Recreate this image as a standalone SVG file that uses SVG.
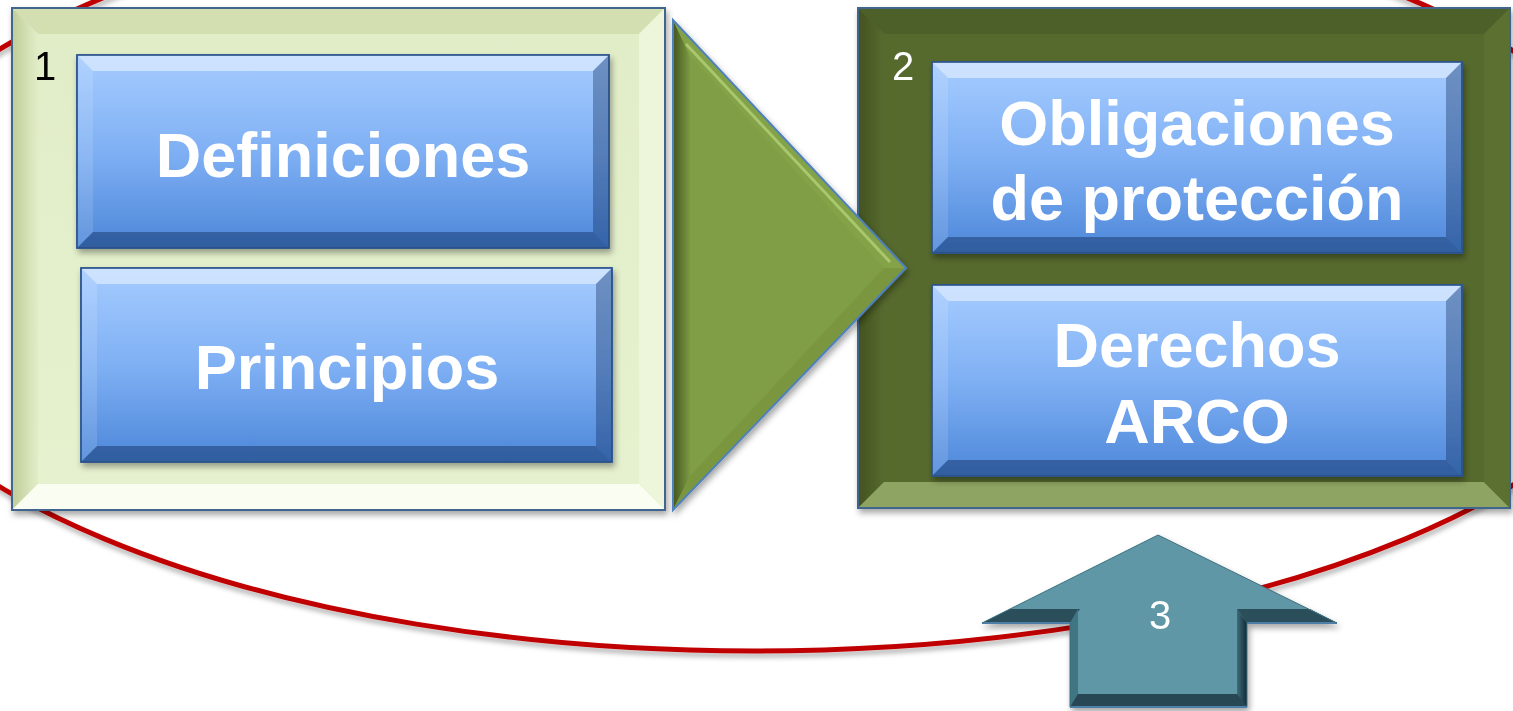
<svg xmlns="http://www.w3.org/2000/svg" width="1513" height="711" viewBox="0 0 1513 711">
<defs>
  <linearGradient id="blueFill" x1="0" y1="0" x2="0" y2="1">
    <stop offset="0" stop-color="#A6CCFF"/>
    <stop offset="0.5" stop-color="#7FB0F4"/>
    <stop offset="1" stop-color="#4D87D9"/>
  </linearGradient>
  <linearGradient id="p1Fill" x1="0" y1="0" x2="0" y2="1">
    <stop offset="0" stop-color="#E1EDC7"/>
    <stop offset="1" stop-color="#E6F1CF"/>
  </linearGradient>
  <linearGradient id="p1Left" x1="0" y1="0" x2="1" y2="0">
    <stop offset="0" stop-color="#BFCD98"/>
    <stop offset="1" stop-color="#E2EDC8"/>
  </linearGradient>
  <linearGradient id="p2Left" x1="0" y1="0" x2="1" y2="0">
    <stop offset="0" stop-color="#43531F"/>
    <stop offset="1" stop-color="#566A2F"/>
  </linearGradient>
  <linearGradient id="triLeft" x1="0" y1="0" x2="1" y2="0">
    <stop offset="0" stop-color="#44561F"/>
    <stop offset="1" stop-color="#7C9A43"/>
  </linearGradient>
  <linearGradient id="shaftRight" x1="0" y1="0" x2="1" y2="0">
    <stop offset="0" stop-color="#3C6C79"/>
    <stop offset="1" stop-color="#142A33"/>
  </linearGradient>
  <filter id="shadow" x="-10%" y="-10%" width="125%" height="130%">
    <feDropShadow dx="2" dy="4" stdDeviation="3" flood-color="#000" flood-opacity="0.35"/>
  </filter>
  <filter id="lineShadow" x="-10%" y="-10%" width="120%" height="130%">
    <feDropShadow dx="1" dy="4" stdDeviation="2.5" flood-color="#000" flood-opacity="0.3"/>
  </filter>
  <style>
    .lbl { font-family: "Liberation Sans", Arial, sans-serif; font-weight: bold; font-size: 63px; fill: #FFFFFF; text-anchor: middle; }
    .num { font-family: "Liberation Sans", Arial, sans-serif; font-size: 40px; }
    .box { fill: url(#blueFill); stroke: #2E5590; stroke-width: 1.5; }
    .b-top { fill: #FFFFFF; opacity: 0.45; }
    .b-left { fill: #FFFFFF; opacity: 0.12; }
    .b-right { fill: #0A2350; opacity: 0.35; }
    .b-bot { fill: #0A2350; opacity: 0.42; }
    .edge { fill: none; stroke: #2E5590; stroke-width: 1.5; }
  </style>
</defs>
<rect width="1513" height="711" fill="#FFFFFF"/>

<g id="connectors">
  <ellipse cx="755" cy="268" rx="920" ry="383" fill="none" stroke="#C00000" stroke-width="5" filter="url(#lineShadow)"/>
</g>

<g id="panel1" filter="url(#shadow)">
  <rect x="12" y="8" width="653" height="502" fill="url(#p1Fill)"/>
  <polygon points="12,8 665,8 639,34 38,34" fill="#D3DFB1"/>
  <polygon points="12,8 38,34 38,484 12,510" fill="url(#p1Left)"/>
  <polygon points="12,510 665,510 639,484 38,484" fill="#FAFDF2"/>
  <polygon points="665,8 665,510 639,484 639,34" fill="#EDF5DA"/>
  <rect x="12" y="8" width="653" height="502" fill="none" stroke="#41668F" stroke-width="2"/>
  <text class="num" x="34" y="80" fill="#000000">1</text>
</g>

<g id="definiciones" filter="url(#shadow)">
  <rect class="box" x="77" y="55" width="532" height="193"/>
  <polygon class="b-top" points="77,55 609,55 593,71 93,71"/>
  <polygon class="b-left" points="77,55 93,71 93,232 77,248"/>
  <polygon class="b-right" points="609,55 609,248 593,232 593,71"/>
  <polygon class="b-bot" points="77,248 609,248 593,232 93,232"/>
  <rect class="edge" x="77" y="55" width="532" height="193"/>
  <text class="lbl" x="343" y="177">Definiciones</text>
</g>

<g id="principios" filter="url(#shadow)">
  <rect class="box" x="81" y="268" width="531" height="194"/>
  <polygon class="b-top" points="81,268 612,268 596,284 97,284"/>
  <polygon class="b-left" points="81,268 97,284 97,446 81,462"/>
  <polygon class="b-right" points="612,268 612,462 596,446 596,284"/>
  <polygon class="b-bot" points="81,462 612,462 596,446 97,446"/>
  <rect class="edge" x="81" y="268" width="531" height="194"/>
  <text class="lbl" x="347" y="389">Principios</text>
</g>

<g id="panel2" filter="url(#shadow)">
  <rect x="858" y="8" width="652" height="500" fill="#576B2F"/>
  <polygon points="858,8 1510,8 1484,34 884,34" fill="#4E6129"/>
  <polygon points="858,8 884,34 884,482 858,508" fill="url(#p2Left)"/>
  <polygon points="858,508 1510,508 1484,482 884,482" fill="#8DA462"/>
  <polygon points="1510,8 1510,508 1484,482 1484,34" fill="#5C7033"/>
  <rect x="858" y="8" width="652" height="500" fill="none" stroke="#41668F" stroke-width="2"/>
  <text class="num" x="892" y="80" fill="#FFFFFF">2</text>
</g>

<g id="obligaciones" filter="url(#shadow)">
  <rect class="box" x="932" y="62" width="530" height="191"/>
  <polygon class="b-top" points="932,62 1462,62 1446,78 948,78"/>
  <polygon class="b-left" points="932,62 948,78 948,237 932,253"/>
  <polygon class="b-right" points="1462,62 1462,253 1446,237 1446,78"/>
  <polygon class="b-bot" points="932,253 1462,253 1446,237 948,237"/>
  <rect class="edge" x="932" y="62" width="530" height="191"/>
  <text class="lbl" x="1197" y="145">Obligaciones</text>
  <text class="lbl" x="1197" y="220">de protección</text>
</g>

<g id="derechos" filter="url(#shadow)">
  <rect class="box" x="932" y="285" width="530" height="191"/>
  <polygon class="b-top" points="932,285 1462,285 1446,301 948,301"/>
  <polygon class="b-left" points="932,285 948,301 948,460 932,476"/>
  <polygon class="b-right" points="1462,285 1462,476 1446,460 1446,301"/>
  <polygon class="b-bot" points="932,476 1462,476 1446,460 948,460"/>
  <rect class="edge" x="932" y="285" width="530" height="191"/>
  <text class="lbl" x="1197" y="367">Derechos</text>
  <text class="lbl" x="1197" y="443">ARCO</text>
</g>

<g id="arrow1" filter="url(#shadow)">
  <polygon points="673,20 906,268 673,510" fill="#7F9E45"/>
  <polygon points="673,20 690,56 690,476 673,510" fill="url(#triLeft)"/>
  <polygon points="673,20 906,268 884,268 690,56" fill="#84A348"/>
  <line x1="686" y1="44" x2="890" y2="262" stroke="#A9C76E" stroke-width="3"/>
  <polygon points="673,510 906,268 884,268 690,476" fill="#7A9741"/>
  <polygon points="673,20 906,268 673,510" fill="none" stroke="#4F81BD" stroke-width="2"/>
</g>

<g id="arrow3" filter="url(#shadow)">
  <polygon points="1158,535 1337,623 1247,623 1247,707 1070,707 1070,623 982,623" fill="#5E97A6"/>
  <polygon points="982,623 1070,623 1080,609 1010,609" fill="#2B4F5A"/>
  <polygon points="1247,623 1337,623 1310,609 1237,609" fill="#2B4F5A"/>
  <polygon points="1070,623 1070,707 1078,696 1078,609" fill="#3F7482"/>
  <polygon points="1247,623 1247,707 1237,696 1237,609" fill="url(#shaftRight)"/>
  <polygon points="1070,707 1247,707 1237,694 1078,694" fill="#264753"/>
  <line x1="982" y1="623" x2="1070" y2="623" stroke="#5C8FD0" stroke-width="2"/>
  <line x1="1247" y1="623" x2="1337" y2="623" stroke="#5C8FD0" stroke-width="2"/>
  <line x1="1070" y1="707" x2="1247" y2="707" stroke="#5C8FD0" stroke-width="2"/>
  <polygon points="1158,535 1337,623 1247,623 1247,707 1070,707 1070,623 982,623" fill="none" stroke="#3F6F80" stroke-width="1"/>
  <text class="num" x="1160" y="629" fill="#FFFFFF" text-anchor="middle" font-size="42">3</text>
</g>
</svg>
